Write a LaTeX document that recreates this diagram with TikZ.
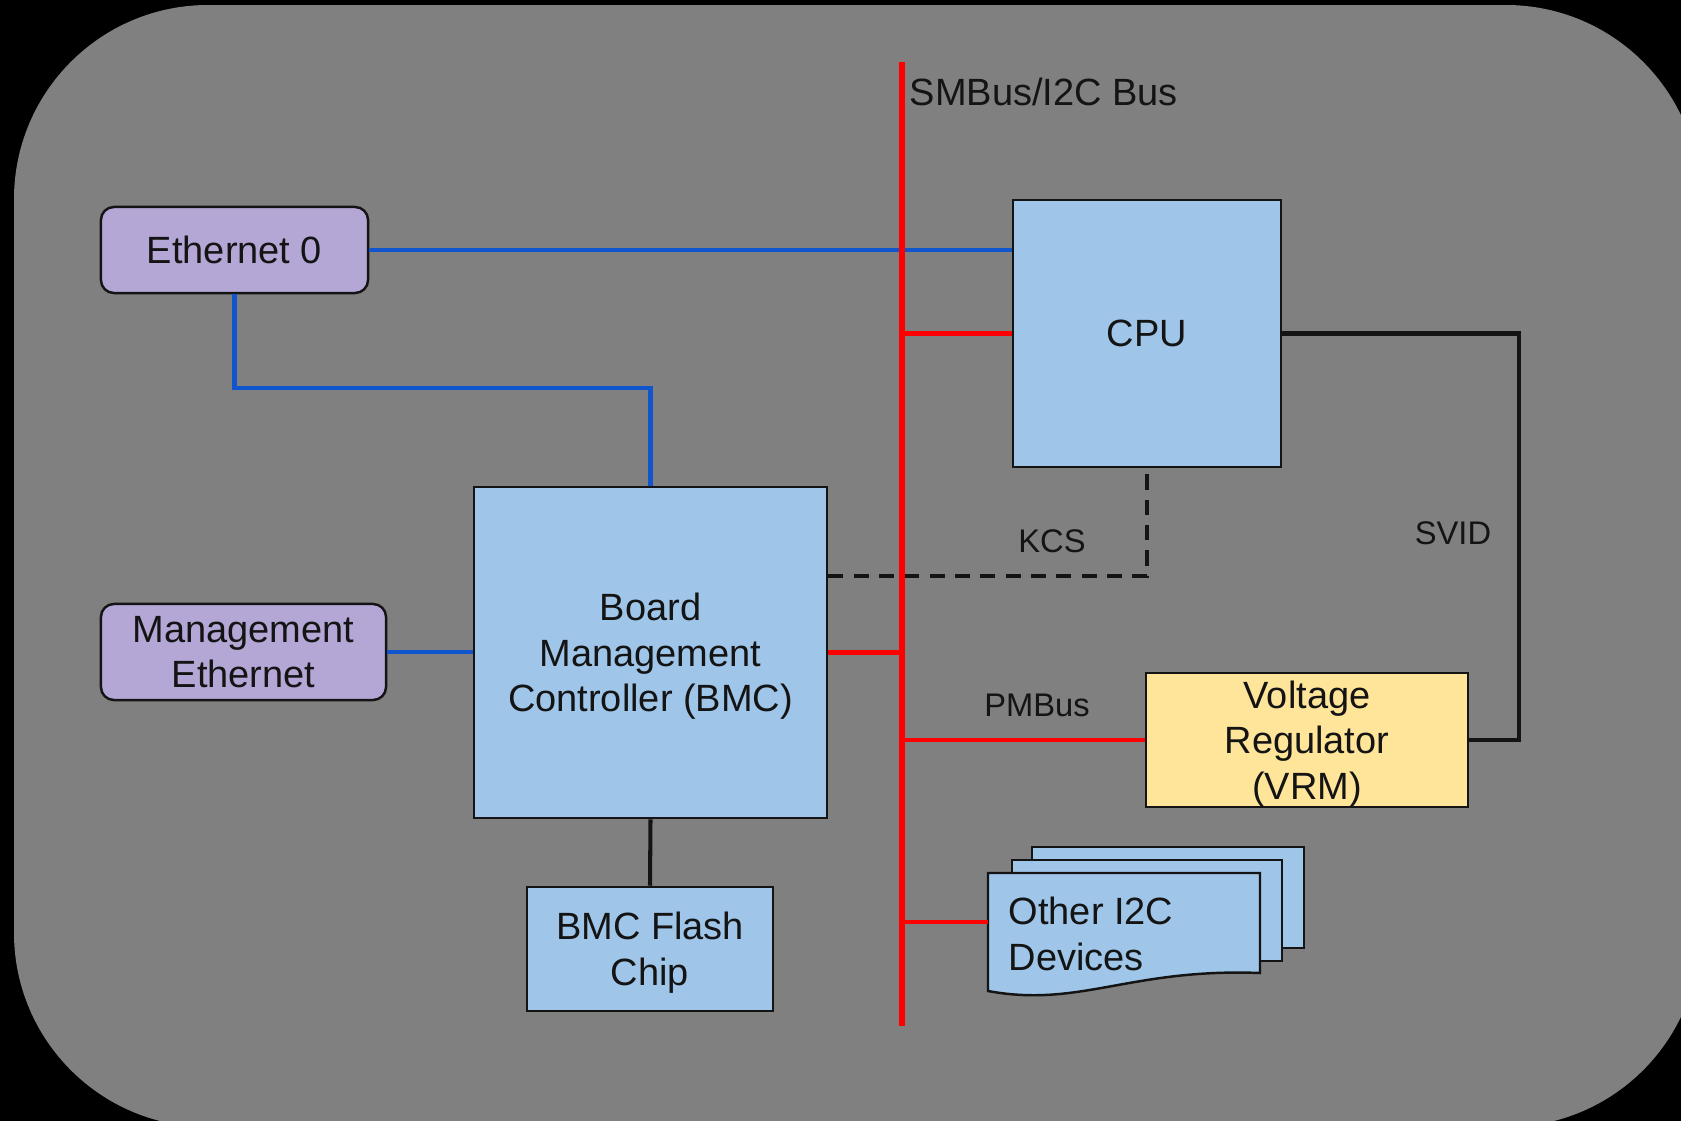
\documentclass[tikz,border=0pt]{standalone}
\usepackage{fontspec}
\setmainfont{Liberation Sans}
\definecolor{boxblue}{HTML}{9FC5E8}
\definecolor{boxpurple}{HTML}{B4A7D6}
\definecolor{boxyellow}{HTML}{FFE599}
\definecolor{linkblue}{HTML}{1155CC}
\definecolor{bggray}{HTML}{808080}
\definecolor{ink}{HTML}{141414}
\tikzset{
  box/.style={draw=ink, line width=0.7pt, fill=boxblue, align=center, inner sep=0pt,
    font=\fontsize{10.8pt}{13pt}\selectfont, text=ink, text depth=0pt},
  pbox/.style={box, fill=boxpurple, rounded corners=0.13cm},
  lbl/.style={font=\fontsize{9.3pt}{11pt}\selectfont, text=ink, inner sep=0pt},
  bluelink/.style={draw=linkblue, line width=1.25pt},
  redlink/.style={draw=red, line width=1.3pt},
  blacklink/.style={draw=ink, line width=1.15pt},
}
\begin{document}
\begin{tikzpicture}[x=0.01cm, y=-0.01cm]
\useasboundingbox (0,0) rectangle (1681,1121);
\begin{scope}
\clip (0,0) rectangle (1681,1121);
\fill[black] (0,0) rectangle (1681,1121);
\fill[bggray, rounded corners=1.94cm] (14,5) rectangle (1700,1127);
\end{scope}

% nodes
\node[pbox, minimum width=2.67cm, minimum height=0.86cm] (eth0) at (234.5,250) {Ethernet 0};
\node[pbox, minimum width=2.85cm, minimum height=0.96cm] (mgmt) at (243.5,652) {Management\\Ethernet};
\node[box, minimum width=2.68cm, minimum height=2.67cm] (cpu) at (1147,333.5) {CPU};
\node[box, minimum width=3.53cm, minimum height=3.31cm] (bmc) at (650.5,652.5) {Board\\Management\\Controller (BMC)};
\node[box, minimum width=2.46cm, minimum height=1.24cm] (flash) at (650,949) {BMC Flash\\Chip};
\node[box, fill=boxyellow, minimum width=3.22cm, minimum height=1.34cm] (vrm) at (1307,740) {Voltage\\Regulator\\(VRM)};

% other I2C devices (stacked document shape)
\filldraw[fill=boxblue, draw=ink, line width=0.7pt] (1032,847) rectangle (1304,948);
\filldraw[fill=boxblue, draw=ink, line width=0.7pt] (1012,860) rectangle (1282,961);
\filldraw[fill=boxblue, draw=ink, line width=0.7pt] (988,873) -- (1260,873) -- (1260,973)
  .. controls (1130,968) and (1080,1008) .. (988,991) -- cycle;
\node[anchor=west, align=left, inner sep=0pt, text=ink, font=\fontsize{10.8pt}{13pt}\selectfont] (i2c) at (1008,934) {Other I2C\\Devices};
\coordinate (i2cw) at (988,922);

% bus
\coordinate (bustop) at (902,62);
\coordinate (busbot) at (902,1026);
\node[anchor=west, inner sep=0pt, text=ink, font=\fontsize{10.8pt}{13pt}\selectfont] (buslbl) at (909,92) {SMBus/I2C Bus};

% blue links
\draw[bluelink] (eth0.east) -- (cpu.west |- eth0.east);
\draw[bluelink] (eth0.south) |- (bmc.north |- 0,388) -- (bmc.north);
\draw[bluelink] (mgmt.east) -- (bmc.west |- mgmt.east);

% KCS dashed
\draw[draw=ink, line width=1.15pt, dash pattern=on 4.3pt off 2.9pt] (bmc.east |- 0,576) -| (cpu.south);
\node[lbl] (kcs) at (1052,541) {KCS};

% red branches
\draw[redlink] (cpu.west) -- (cpu.west -| bustop);
\draw[redlink] (bmc.east) -- (bmc.east -| bustop);
\draw[redlink] (vrm.west) -- (vrm.west -| bustop);
\draw[redlink] (i2cw) -- (i2cw -| bustop);
\draw[draw=red, line width=1.85pt] (bustop) -- (busbot);
\node[lbl] (pmbus) at (1037,705) {PMBus};

% SVID
\draw[blacklink] (cpu.east) -- (1519,333.5) |- (vrm.east);
\node[lbl] (svid) at (1453,533) {SVID};

% BMC to flash
\draw[blacklink] (bmc.south) -- (flash.north);
\end{tikzpicture}
\end{document}
